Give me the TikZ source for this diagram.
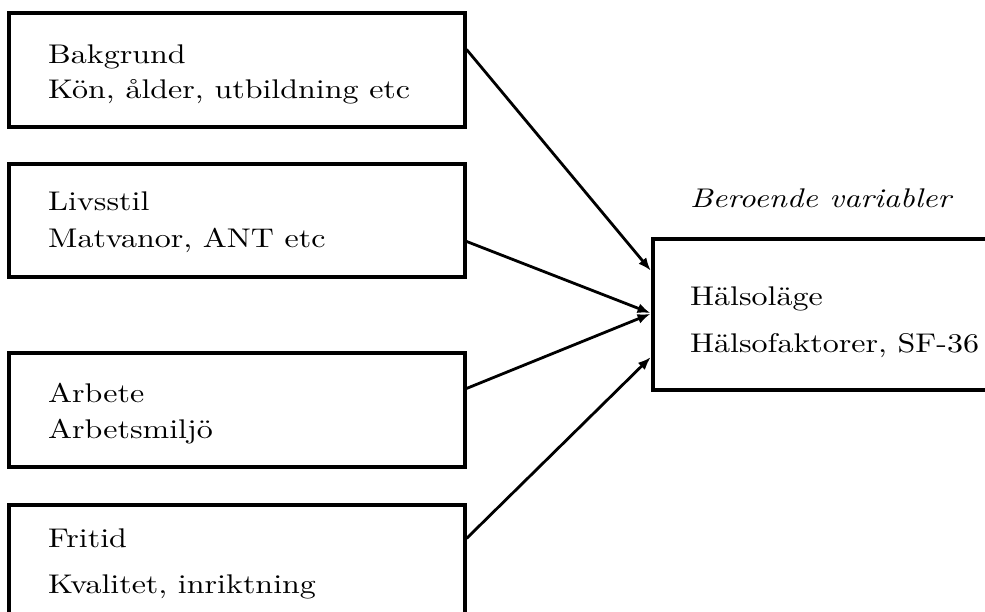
\documentclass[tikz,border=0pt]{standalone}
\usepackage{graphicx}
\usetikzlibrary{arrows.meta}
\newcommand{\wide}[1]{\scalebox{3.2}[2.7]{\fontsize{10}{12}\selectfont #1}}
\tikzset{
  box/.style={draw=black, line width=3.1pt, rectangle, inner sep=0pt, fill=none},
  lbl/.style={anchor=base west, inner sep=0pt},
  conn/.style={line width=2.8pt, -{Latex[length=13pt,width=10pt]}, shorten >=1pt},
}
\begin{document}
\begin{tikzpicture}[x=1pt,y=-1pt]
\useasboundingbox (0,0) rectangle (985,611);
\clip (0,0) rectangle (985,611);
\fill[white] (0,0) rectangle (985,611);
% left boxes
\node[box, minimum width=456pt, minimum height=114pt] (b1) at (237,70) {};
\node[box, minimum width=456pt, minimum height=113pt] (b2) at (237,220.5) {};
\node[box, minimum width=456pt, minimum height=114pt] (b3) at (237,410) {};
\node[box, minimum width=456pt, minimum height=124pt] (b4) at (237,567) {};
% right box
\node[box, minimum width=352pt, minimum height=151pt] (r) at (829,314.5) {};
% texts
\node[lbl] (t1a) at (48,63) {\wide{Bakgrund}};
\node[lbl] (t1b) at (48,98) {\wide{Kön, ålder, utbildning etc}};
\node[lbl] (t2a) at (48,210) {\wide{Livsstil}};
\node[lbl] (t2b) at (48,247) {\wide{Matvanor, ANT etc}};
\node[lbl] (t3a) at (48,402) {\wide{Arbete}};
\node[lbl] (t3b) at (48,438) {\wide{Arbetsmiljö}};
\node[lbl] (t4a) at (48,547) {\wide{Fritid}};
\node[lbl] (t4b) at (48,593) {\wide{Kvalitet, inriktning}};
\node[lbl] (dep) at (690,207) {\wide{\itshape Beroende variabler}};
\node[lbl] (ra) at (690,305) {\wide{Hälsoläge}};
\node[lbl] (rb) at (690,352) {\wide{Hälsofaktorer, SF-36}};
% connectors
\draw[conn] ([yshift=-38pt]b1.north east) -- ([yshift=-34pt]r.north west);
\draw[conn] ([yshift=-79pt]b2.north east) -- ([yshift=-76pt]r.north west);
\draw[conn] ([yshift=-37pt]b3.north east) -- ([yshift=-76pt]r.north west);
\draw[conn] ([yshift=-35pt]b4.north east) -- ([yshift=-119pt]r.north west);
\end{tikzpicture}
\end{document}
